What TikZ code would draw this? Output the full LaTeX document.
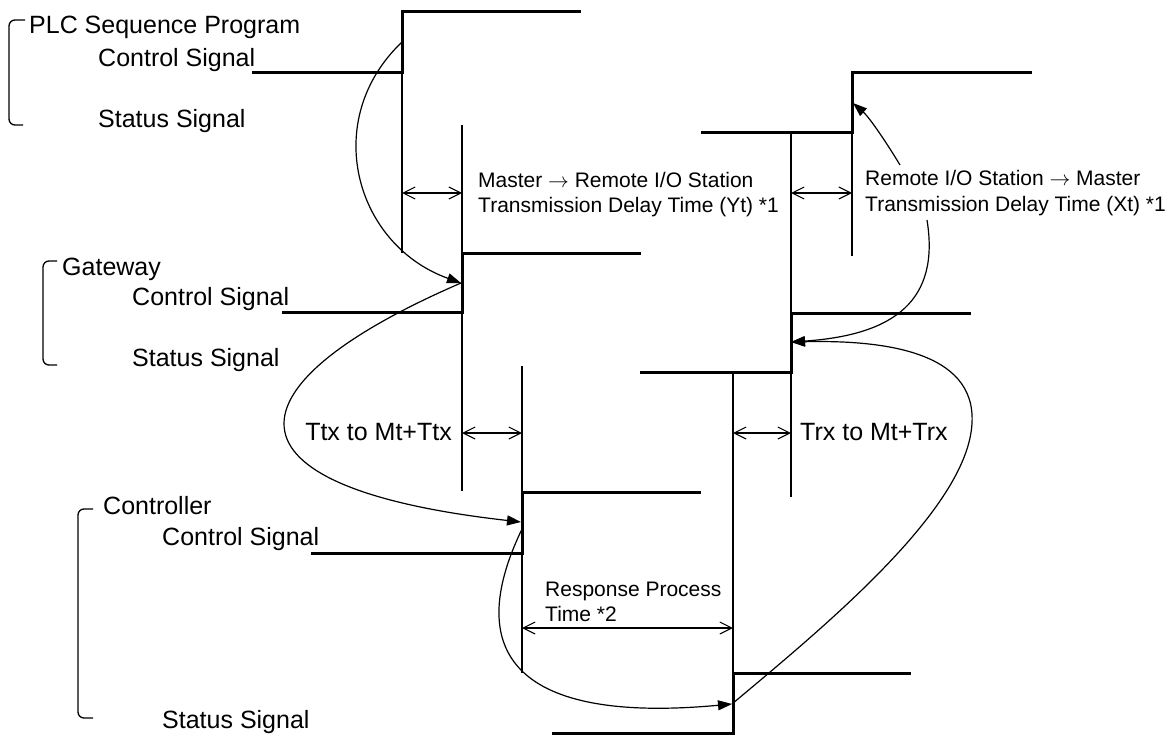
\documentclass[tikz,border=0pt]{standalone}
\usepackage{fontspec}
\setmainfont{Liberation Sans}
\usetikzlibrary{arrows.meta}
\newcommand{\tofrom}{\ensuremath{\rightarrow}}
\tikzset{
  sig/.style={line width=3pt, line join=miter},
  thinline/.style={line width=1.2pt},
  dimarrow/.style={line width=1.1pt, {Straight Barb[length=12pt,width=12pt]}-{Straight Barb[length=12pt,width=12pt]}},
  flow/.style={line width=1.2pt, -{Triangle[length=14pt,width=10pt]}},
  brk/.style={line width=1.3pt, rounded corners=6pt},
  lbl/.style={anchor=base west, inner sep=0pt, font=\fontsize{25}{30}\selectfont},
  lble/.style={anchor=base east, inner sep=0pt, font=\fontsize{25}{30}\selectfont},
  note/.style={anchor=base west, inner sep=0pt, font=\fontsize{21}{25}\selectfont}
}
\begin{document}
\begin{tikzpicture}[x=1pt, y=-1pt]
\path[use as bounding box] (0,0) rectangle (1176,736);

% ---------- brackets ----------
\draw[brk] (25,20) -- (9,20) -- (9,125) -- (23,125);
\draw[brk] (57,261) -- (43,261) -- (43,365) -- (57,365);
\draw[brk] (93,509) -- (78,509) -- (78,718) -- (93,718);

% ---------- group labels ----------
\node[lbl] (plc)  at (29,33)  {PLC Sequence Program};
\node[lbl] (plcC) at (98,66)  {Control Signal};
\node[lbl] (plcS) at (98,127) {Status Signal};
\node[lbl] (gw)   at (62,275) {Gateway};
\node[lbl] (gwC)  at (132,305) {Control Signal};
\node[lbl] (gwS)  at (132,366) {Status Signal};
\node[lbl] (ct)   at (103,514) {Controller};
\node[lbl] (ctC)  at (162,545) {Control Signal};
\node[lbl] (ctS)  at (162,728) {Status Signal};

% ---------- key coordinates ----------
\coordinate (pcRise) at (402,42);
\coordinate (gcRise) at (461,283);
\coordinate (ccRise) at (521,522);
\coordinate (ccStart) at (523,527);
\coordinate (csRise) at (732,704);
\coordinate (gsRise) at (791,342);
\coordinate (xtFrom) at (927,220);
\coordinate (xtTo)   at (900,165);
\coordinate (psRise) at (853,103);
\coordinate (turn)   at (972,423);

% ---------- signals ----------
\draw[sig] (252,72) -- (402,72) -- (402,11) -- (581,11);
\draw[sig] (701,132) -- (852,132) -- (852,72) -- (1032,72);
\draw[sig] (282,312) -- (462,312) -- (462,253) -- (641,253);
\draw[sig] (640,372) -- (791,372) -- (791,313) -- (971,313);
\draw[sig] (311,553) -- (522,553) -- (522,492) -- (701,492);
\draw[sig] (552,733) -- (733,733) -- (733,673) -- (911,673);

% ---------- timing guide lines ----------
\draw[thinline] (402,72) -- (402,253);
\draw[thinline] (462,125) -- (462,491);
\draw[thinline] (522,366) -- (522,673);
\draw[thinline] (733,372) -- (733,673);
\draw[thinline] (791,132) -- (791,497);
\draw[thinline] (852,132) -- (852,256);

% ---------- dimension arrows ----------
\draw[dimarrow] (402,193) -- (462,193);
\draw[dimarrow] (791,193) -- (852,193);
\draw[dimarrow] (462,433) -- (522,433);
\draw[dimarrow] (733,433) -- (791,433);
\draw[dimarrow] (522,628) -- (733,628);

% ---------- notes ----------
\node[note] (yt1) at (478,187) {Master \tofrom{} Remote I/O Station};
\node[note] (yt2) at (478,212) {Transmission Delay Time (Yt) *1};
\node[note] (xt1) at (865,185) {Remote I/O Station \tofrom{} Master};
\node[note] (xt2) at (865,211) {Transmission Delay Time (Xt) *1};
\node[note] (rp1) at (545,596) {Response Process};
\node[note] (rp2) at (545,621) {Time *2};
\node[lble] (ttx) at (452,440) {Ttx to Mt+Ttx};
\node[lbl]  (trx) at (800,440) {Trx to Mt+Trx};

% ---------- flow curves ----------
\draw[flow] (pcRise) .. controls (320,120) and (355,245) .. (gcRise);
\draw[flow] (gcRise) .. controls (225,385) and (210,487) .. (ccRise);
\draw[flow] (ccStart) .. controls (465,645) and (505,725) .. (csRise);
\draw[flow] (csRise) .. controls (820,630) and (968,510) .. (turn)
                     .. controls (976,350) and (880,340) .. (gsRise);
\draw[flow] (xtFrom) .. controls (940,300) and (895,335) .. (gsRise);
\draw[flow] (xtTo) .. controls (888,145) and (870,118) .. (psRise);
\end{tikzpicture}
\end{document}
